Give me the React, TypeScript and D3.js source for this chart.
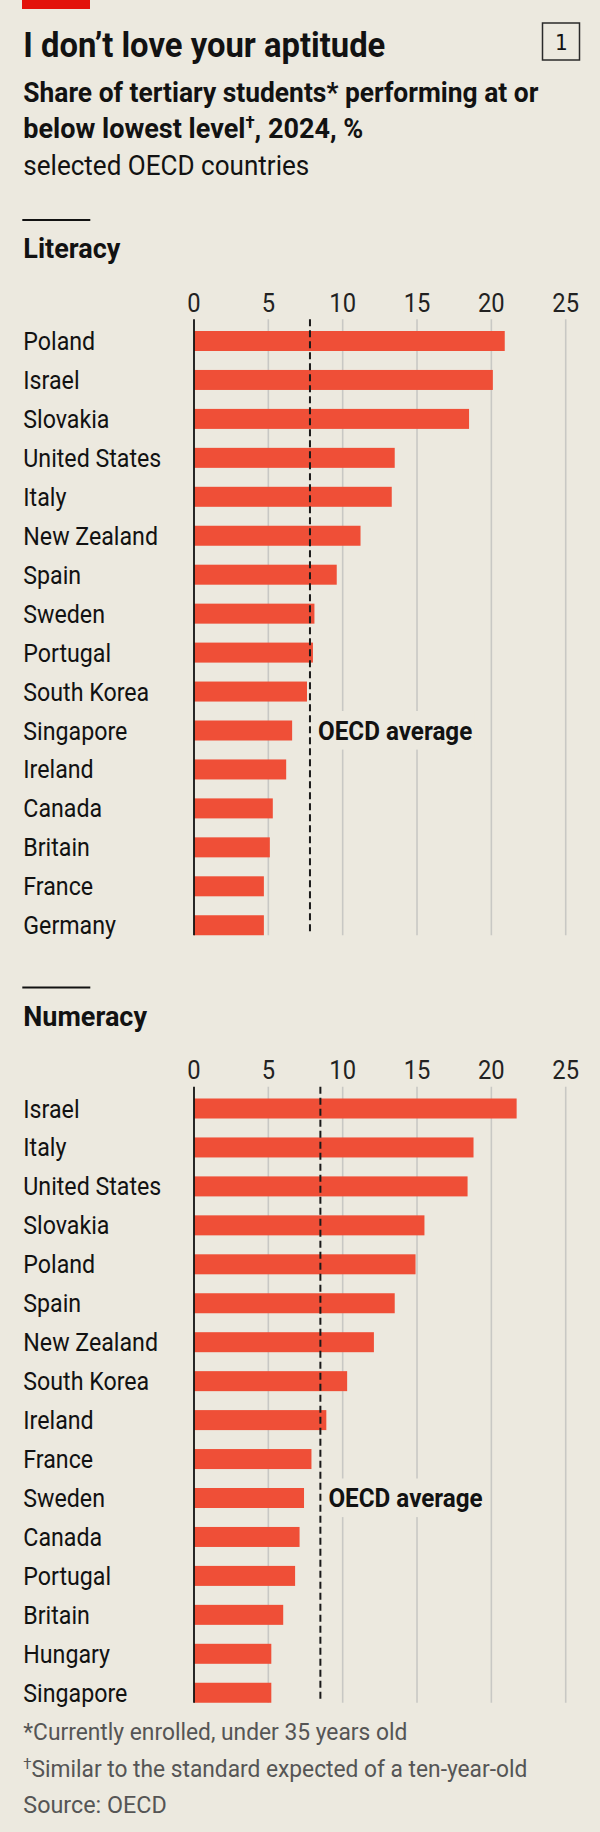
import React from 'react';
import * as d3 from 'd3';

const literacyCountries = ['Poland', 'Israel', 'Slovakia', 'United States', 'Italy', 'New Zealand', 'Spain', 'Sweden', 'Portugal', 'South Korea', 'Singapore', 'Ireland', 'Canada', 'Britain', 'France', 'Germany'];
const literacyValues = [20.9, 20.1, 18.5, 13.5, 13.3, 11.2, 9.6, 8.1, 8.0, 7.6, 6.6, 6.2, 5.3, 5.1, 4.7, 4.7];
const literacyAverage = 7.8;

const numeracyCountries = ['Israel', 'Italy', 'United States', 'Slovakia', 'Poland', 'Spain', 'New Zealand', 'South Korea', 'Ireland', 'France', 'Sweden', 'Canada', 'Portugal', 'Britain', 'Hungary', 'Singapore'];
const numeracyValues = [21.7, 18.8, 18.4, 15.5, 14.9, 13.5, 12.1, 10.3, 8.9, 7.9, 7.4, 7.1, 6.8, 6.0, 5.2, 5.2];
const numeracyAverage = 8.5;

const xTicks = [0, 5, 10, 15, 20, 25];

const W = 600;
const H = 1832;
const BG = '#ECE9DF';
const RED = '#E3120B';
const BAR = '#EF4F37';
const INK = '#121212';
const FONT = 'Roboto, "Liberation Sans", sans-serif';

// condensed text: squeeze horizontally around the anchor point,
// or fit to a fixed length when `len` is given
function CText({ x, y, sx = 1, len, size, weight = 400, fill = INK, anchor = 'start', family = FONT, children }: any) {
    const fit = len ? { textLength: len, lengthAdjust: 'spacingAndGlyphs' } : {};
    return (
        <text
            transform={`translate(${x},${y}) scale(${len ? 1 : sx},1)`}
            fontFamily={family}
            fontSize={size}
            fontWeight={weight}
            fill={fill}
            textAnchor={anchor}
            {...fit}
        >
            {children}
        </text>
    );
}

function Panel({ top, title, countries, values, average, labelRow }: any) {
    const x = d3.scaleLinear().domain([0, 25]).range([194, 565.7]);
    const step = 38.95;
    const barH = 20;
    const pad = 1 - barH / step;
    const rowsTop = top + 111 - (step * pad) / 2;
    const y = d3.scaleBand<string>()
        .domain(countries)
        .range([rowsTop, rowsTop + countries.length * step])
        .paddingInner(pad)
        .paddingOuter(pad / 2);

    const axisTop = top + 99.3;
    const axisBottom = (y(countries[countries.length - 1]) as number) + y.bandwidth();
    const labelY = (y(labelRow) as number) + y.bandwidth() / 2;
    const xAvg = x(average);

    return (
        <g>
            <line x1={22.3} x2={90.3} y1={top} y2={top} stroke={INK} strokeWidth={2} />
            <CText x={23.3} y={top + 38.3} size={27} weight={700} sx={1}>{title}</CText>

            {xTicks.map(t => (
                <CText key={t} x={x(t)} y={top + 91.7} size={25} sx={0.95} anchor="middle" fill="#222">{t}</CText>
            ))}

            {xTicks.filter(t => t > 0).map(t => (
                <line key={t} x1={x(t)} x2={x(t)} y1={axisTop} y2={axisBottom} stroke="#C8C8C4" strokeWidth={1.6} />
            ))}

            {/* clear the gridlines behind the average label */}
            <rect x={xAvg + 3} y={labelY - 19.5} width={162} height={38.6} fill={BG} />

            {countries.map((c: string, i: number) => (
                <g key={c}>
                    <CText x={23.3} y={(y(c) as number) + y.bandwidth() / 2 + 9} size={25.5} sx={0.91}>{c}</CText>
                    <rect x={x(0)} y={y(c)} width={x(values[i]) - x(0)} height={y.bandwidth()} fill={BAR} />
                </g>
            ))}

            <line x1={x(0)} x2={x(0)} y1={axisTop} y2={axisBottom} stroke={INK} strokeWidth={1.8} />
            <line x1={xAvg} x2={xAvg} y1={axisTop} y2={axisBottom} stroke="#1a1a1a" strokeWidth={2} strokeDasharray="7,4" />
            <CText x={xAvg + 8} y={labelY + 9} size={25} weight={700} sx={0.97}>OECD average</CText>
        </g>
    );
}

export default function App() {
    return (
        <svg width={W} height={H} style={{ position: 'absolute', left: 0, top: 0, display: 'block' }}>
            <rect width={W} height={H} fill={BG} />
            <rect x={22} y={0} width={68} height={9} fill={RED} />

            <CText x={23.3} y={57} size={35} weight={700} len={362}>I don’t love your aptitude</CText>
            <rect x={542.5} y={23} width={37} height={37} fill="none" stroke="#2a2a2a" strokeWidth={1.5} />
            <CText x={561} y={50} size={22} anchor="middle" family='"DejaVu Sans Mono", monospace' sx={0.95}>1</CText>

            <CText x={23.3} y={101.7} size={27} weight={700} len={515}>Share of tertiary students* performing at or</CText>
            <CText x={23.3} y={138.3} size={27} weight={700} len={340}>
                below lowest level<tspan fontSize={17} dy={-10}>†</tspan><tspan dy={10}>, 2024, %</tspan>
            </CText>
            <CText x={23.3} y={175} size={27} len={286}>selected OECD countries</CText>

            <Panel top={220} title="Literacy" countries={literacyCountries} values={literacyValues} average={literacyAverage} labelRow="Singapore" />
            <Panel top={987.5} title="Numeracy" countries={numeracyCountries} values={numeracyValues} average={numeracyAverage} labelRow="Sweden" />

            <CText x={23.3} y={1740} size={23} len={384} fill="#555">*Currently enrolled, under 35 years old</CText>
            <CText x={23.3} y={1776.7} size={23} len={504} fill="#555">
                <tspan fontSize={15} dy={-8}>†</tspan><tspan dy={8}>Similar to the standard expected of a ten-year-old</tspan>
            </CText>
            <CText x={23.3} y={1812.7} size={23} len={143.5} fill="#555">Source: OECD</CText>
        </svg>
    );
}
